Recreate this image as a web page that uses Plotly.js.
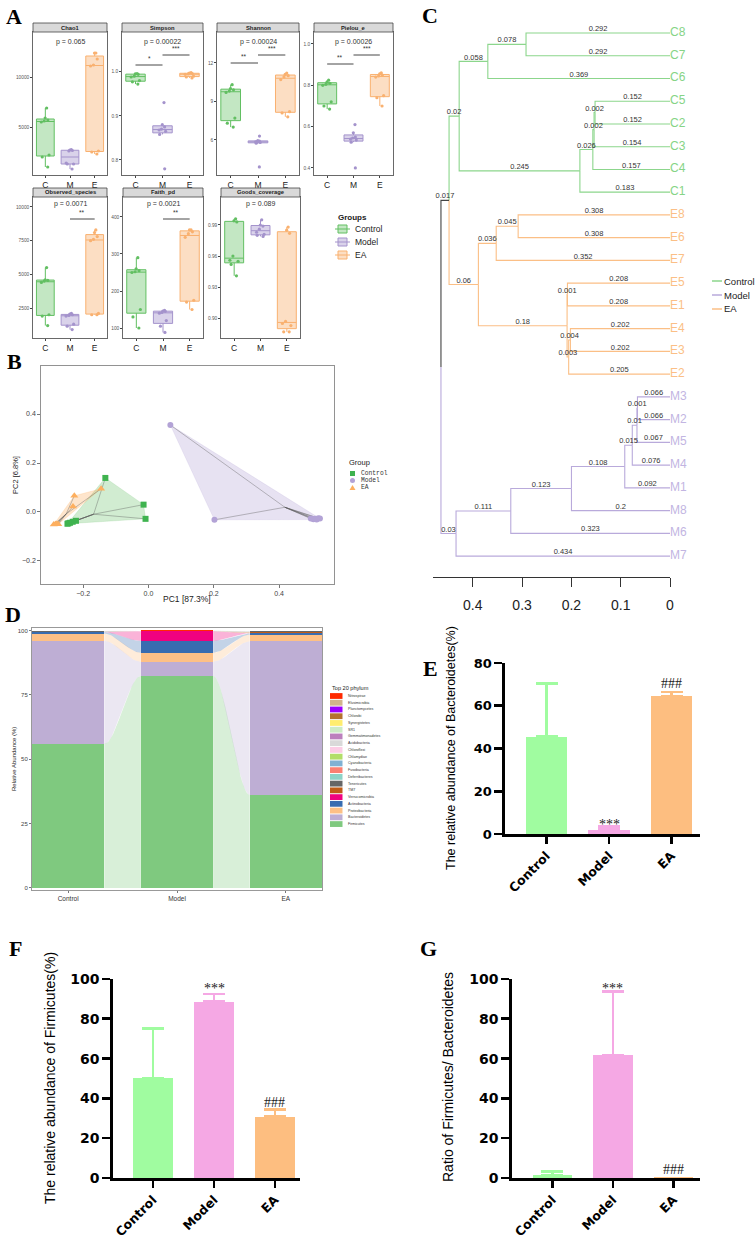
<!DOCTYPE html>
<html>
<head>
<meta charset="utf-8">
<script src="https://cdn.plot.ly/plotly-3.0.1.min.js"></script>
<style>
  html, body { margin: 0; padding: 0; background: #fff; }
  #fig { width: 756px; height: 1239px; }
</style>
</head>
<body>
<div id="fig"></div>
<script>
// ---------- data ----------
// A: alpha diversity, 8 samples per group (C, M, E)
const alphaCats = ['C', 'M', 'E'];
const alphaNames = ['Chao1', 'Simpson', 'Shannon', 'Pielou_e', 'Observed_species', 'Faith_pd', 'Goods_coverage'];
const alphaP = ['p = 0.065', 'p = 0.00022', 'p = 0.00024', 'p = 0.00026', 'p = 0.0071', 'p = 0.0021', 'p = 0.089'];
const chao1 = [[6900, 5900, 5700, 5600, 5500, 2200, 2000, 1000], [2750, 2700, 2650, 2600, 1400, 1300, 1300, 800], [12400, 12400, 11800, 11200, 11100, 2600, 2500, 2300]];
const simpson = [[0.996, 0.995, 0.994, 0.99, 0.988, 0.98, 0.977, 0.972], [0.93, 0.88, 0.875, 0.87, 0.868, 0.865, 0.858, 0.78], [0.998, 0.997, 0.996, 0.995, 0.994, 0.99, 0.988, 0.986]];
const shannon = [[10.3, 10.0, 9.9, 9.8, 9.7, 7.7, 7.3, 7.0], [6.3, 5.95, 5.9, 5.85, 5.85, 5.8, 5.75, 3.9], [11.2, 11.1, 11.0, 10.9, 10.7, 8.2, 8.1, 7.8]];
const pielou = [[0.825, 0.815, 0.81, 0.805, 0.8, 0.72, 0.7, 0.685], [0.61, 0.57, 0.55, 0.545, 0.54, 0.535, 0.525, 0.4], [0.86, 0.855, 0.85, 0.845, 0.84, 0.75, 0.74, 0.7]];
const observed = [[5500, 4600, 4550, 4500, 4400, 2000, 1900, 1200], [2100, 2050, 2000, 1950, 1900, 1300, 1150, 900], [8300, 8100, 7800, 7600, 7500, 2100, 2000, 2000]];
const faith = [[290, 260, 255, 252, 250, 150, 130, 100], [148, 146, 145, 142, 140, 120, 105, 88], [365, 365, 360, 355, 345, 175, 170, 150]];
const goods = [[0.996, 0.994, 0.993, 0.96, 0.956, 0.955, 0.952, 0.941], [0.995, 0.99, 0.989, 0.986, 0.983, 0.981, 0.98, 0.979], [0.988, 0.985, 0.982, 0.897, 0.895, 0.893, 0.887, 0.887]];
const alphaSig = [[], [[0, 1, '*'], [1, 2, '***']], [[0, 1, '**'], [1, 2, '***']], [[0, 1, '**'], [1, 2, '***']], [[1, 2, '**']], [[1, 2, '**']], []];

// B: PCoA coordinates
const ctrlPC1 = [-0.132, -0.015, -0.009, -0.222, -0.232, -0.24, -0.248, -0.245];
const ctrlPC2 = [0.139, 0.03, -0.028, -0.036, -0.04, -0.044, -0.048, -0.046];
const modelPC1 = [0.067, 0.202, 0.497, 0.505, 0.51, 0.52, 0.525, 0.515];
const modelPC2 = [0.355, -0.032, -0.027, -0.03, -0.028, -0.026, -0.027, -0.031];
const eaPC1 = [-0.227, -0.145, -0.231, -0.285, -0.28, -0.276, -0.29, -0.283];
const eaPC2 = [0.066, 0.095, 0.022, -0.05, -0.05, -0.05, -0.051, -0.049];

// C: clustering tree (branch lengths as printed)
const treeNewick = '(((((C8:0.292,C7:0.292):0.078,C6:0.369):0.058,((((C5:0.152,C2:0.152):0.002,C3:0.154):0.002,C4:0.157):0.026,C1:0.183):0.245):0.02,(((E8:0.308,E6:0.308):0.045,E7:0.352):0.036,((E5:0.208,E1:0.208):0.001,((E4:0.202,E3:0.202):0.004,E2:0.205):0.003):0.18):0.06):0.017,(((((((M3:0.066,M2:0.066):0.001,M5:0.067):0.01,M4:0.076):0.015,M1:0.092):0.108,M8:0.2):0.123,M6:0.323):0.111,M7:0.434):0.03)';

// D: top 20 phylum, stacked bottom -> top
const phyla = ['Firmicutes', 'Bacteroidetes', 'Proteobacteria', 'Actinobacteria', 'Verrucomicrobia', 'TM7', 'Tenericutes', 'Deferribacteres', 'Fusobacteria', 'Cyanobacteria', 'Chlamydiae', 'Chloroflexi', 'Acidobacteria', 'Gemmatimonadetes', 'SR1', 'Synergistetes', 'Chlorobi', 'Planctomycetes', 'Elusimicrobia', 'Nitrospirae'];
const phylaColors = ['#7fc97f', '#beaed4', '#fdc086', '#386cb0', '#f0027f', '#bf5b17', '#666666', '#8dd3c7', '#fb8072', '#80b1d3', '#b3de69', '#fccde5', '#d9d9d9', '#bc80bd', '#ccebc5', '#ffed6f', '#b5712f', '#9b00ff', '#d2b48c', '#ff2a00'];
const abundCtrl = [56.0, 40.0, 2.8, 0.6, 0.05, 0.1, 0.15, 0.1, 0.02, 0.05, 0.01, 0.02, 0.01, 0.01, 0.01, 0.01, 0.01, 0.01, 0.01, 0.01];
const abundModel = [82.4, 5.5, 3.5, 4.6, 3.7, 0.05, 0.1, 0.05, 0.01, 0.02, 0.01, 0.02, 0.01, 0.01, 0.01, 0.01, 0.01, 0.01, 0.01, 0.01];
const abundEA = [36.2, 59.6, 2.6, 0.5, 0.05, 0.5, 0.2, 0.1, 0.02, 0.05, 0.01, 0.02, 0.01, 0.01, 0.01, 0.01, 0.01, 0.01, 0.01, 0.01];
const groupNames = ['Control', 'Model', 'EA'];

// E, F, G: mean + SD
const bacteroidetesMean = [45.5, 2.0, 64.5];
const bacteroidetesSD = [24.8, 1.5, 2.0];
const firmicutesMean = [50.3, 88.6, 30.8];
const firmicutesSD = [24.7, 3.9, 3.5];
const ratioMean = [1.5, 61.6, 0.6];
const ratioSD = [1.7, 32.2, 0];

// ---------- helpers ----------
const W = 756, H = 1239;
const SANS = 'Liberation Sans, Arial, sans-serif';
const NARROW = 'Liberation Sans Narrow, Arial Narrow, Liberation Sans, sans-serif';
const SERIF = 'Liberation Serif, Times New Roman, serif';
const MONO = 'Liberation Mono, Courier New, monospace';
const HEAVY = 'DejaVu Sans, Liberation Sans, sans-serif';
const dx = (a, b) => [a / W, b / W];
const dy = (top, bot) => [1 - bot / H, 1 - top / H];
const px = v => v / W;
const py = v => 1 - v / H;
const axRef = (n, c) => n === 1 ? c : c + n;
const axKey = (n, c) => n === 1 ? c + 'axis' : c + 'axis' + n;
function rgba(hex, a) {
  const v = parseInt(hex.slice(1), 16);
  return 'rgba(' + (v >> 16) + ',' + ((v >> 8) & 255) + ',' + (v & 255) + ',' + a + ')';
}

const data = [];
const shapes = [];
const annotations = [];
const layout = {
  width: W, height: H,
  margin: {l: 0, r: 0, t: 0, b: 0},
  paper_bgcolor: '#fff', plot_bgcolor: '#fff',
  showlegend: false, barmode: 'stack', boxmode: 'overlay',
  font: {family: SANS, color: '#222'}
};
function txt(x, y, text, size, opts) {
  annotations.push(Object.assign({
    xref: 'paper', yref: 'paper', x: px(x), y: py(y), text: text, showarrow: false,
    xanchor: 'center', yanchor: 'middle', font: {family: SANS, size: size, color: '#222'}
  }, opts || {}));
}

// panel letters
[['A', 14, 16], ['B', 14, 362], ['C', 430, 15], ['D', 13, 614], ['E', 430, 668], ['F', 15, 948], ['G', 428, 948]]
  .forEach(l => txt(l[1], l[2], '<b>' + l[0] + '</b>', 22, {font: {family: SERIF, size: 22, color: '#000'}}));

// ---------- A: box plots ----------
const alphaSets = [chao1, simpson, shannon, pielou, observed, faith, goods];
const aBox = [
  {l: 33, r: 107, t: 32, b: 175, range: [200, 14500], tv: [5000, 10000], fmt: 'd'},
  {l: 122, r: 203, t: 32, b: 175, range: [0.766, 1.09], tv: [0.8, 0.9, 1.0], fmt: '.1f'},
  {l: 217, r: 299, t: 32, b: 175, range: [3.27, 14.4], tv: [6, 9, 12], fmt: 'd'},
  {l: 314, r: 393, t: 32, b: 175, range: [0.366, 1.058], tv: [0.4, 0.6, 0.8, 1.0], fmt: '.1f'},
  {l: 33, r: 107, t: 197, b: 338, range: [275, 10740], tv: [2500, 5000, 7500, 10000], fmt: 'd'},
  {l: 123, r: 203, t: 197, b: 338, range: [73, 454], tv: [100, 200, 300, 400], fmt: 'd'},
  {l: 221, r: 300, t: 197, b: 338, range: [0.881, 1.017], tv: [0.90, 0.93, 0.96, 0.99], fmt: '.2f'}
];
const aSigY = [[], [65, 55], [63, 55], [64, 55], [219], [219], []];
const grpLine = ['#62bf62', '#a493cc', '#f9b170'];
const grpFill = ['rgba(98,191,98,0.38)', 'rgba(164,147,204,0.42)', 'rgba(249,177,112,0.42)'];

alphaSets.forEach((set, i) => {
  const n = i + 1, p = aBox[i];
  set.forEach((vals, g) => {
    data.push({
      type: 'box', x: vals.map(() => alphaCats[g]), y: vals,
      xaxis: axRef(n, 'x'), yaxis: axRef(n, 'y'),
      boxpoints: 'all', jitter: 0.55, pointpos: 0, width: 0.72, whiskerwidth: 0,
      fillcolor: grpFill[g], line: {color: grpLine[g], width: 1},
      marker: {color: grpLine[g], size: 3.2}, hoverinfo: 'y'
    });
  });
  layout[axKey(n, 'x')] = {
    domain: dx(p.l, p.r), anchor: axRef(n, 'y'), type: 'category',
    categoryorder: 'array', categoryarray: alphaCats, range: [-0.5, 2.5],
    showline: true, mirror: true, linecolor: '#444', linewidth: 0.8,
    ticks: 'outside', ticklen: 2, tickcolor: '#444', showgrid: false, zeroline: false,
    tickfont: {family: SANS, size: 8.5, color: '#222'}
  };
  layout[axKey(n, 'y')] = {
    domain: dy(p.t, p.b), anchor: axRef(n, 'x'), range: p.range, tickvals: p.tv, tickformat: p.fmt,
    exponentformat: 'none', separatethousands: false,
    showline: true, mirror: true, linecolor: '#444', linewidth: 0.8,
    ticks: 'outside', ticklen: 2, tickcolor: '#444', showgrid: false, zeroline: false,
    tickfont: {family: SANS, size: 4.8, color: '#555'}
  };
  // strip header
  shapes.push({type: 'rect', xref: 'paper', yref: 'paper', x0: px(p.l), x1: px(p.r), y0: py(p.t), y1: py(p.t - 9),
    fillcolor: '#d9d9d9', line: {color: '#444', width: 0.8}});
  txt((p.l + p.r) / 2, p.t - 4.5, '<b>' + alphaNames[i] + '</b>', 5.8);
  txt((p.l + p.r) / 2, p.t + (i < 4 ? 10 : 7), alphaP[i], 7, {font: {family: SANS, size: 7, color: '#333'}});
  alphaSig[i].forEach((s, k) => {
    const yy = aSigY[i][k];
    shapes.push({type: 'line', xref: axRef(n, 'x'), yref: 'paper', x0: s[0], x1: s[1], y0: py(yy), y1: py(yy),
      line: {color: '#333', width: 0.9}});
    annotations.push({xref: axRef(n, 'x'), yref: 'paper', x: (s[0] + s[1]) / 2, y: py(yy - 1), text: s[2],
      showarrow: false, yanchor: 'bottom', font: {family: SANS, size: 6.5, color: '#333'}});
  });
});
// A legend
txt(336, 217, '<b>Groups</b>', 8, {xanchor: 'left'});
['Control', 'Model', 'EA'].forEach((g, k) => {
  const yy = 229 + k * 13;
  shapes.push({type: 'line', xref: 'paper', yref: 'paper', x0: px(335), x1: px(350), y0: py(yy), y1: py(yy), line: {color: grpLine[k], width: 1}});
  shapes.push({type: 'rect', xref: 'paper', yref: 'paper', x0: px(338), x1: px(347), y0: py(yy + 4), y1: py(yy - 4), fillcolor: grpFill[k], line: {color: grpLine[k], width: 1}});
  txt(353, yy, g, 8.5, {xanchor: 'left'});
});

// ---------- B: PCoA ----------
function hull(xs, ys) {
  const p = xs.map((x, i) => [x, ys[i]]).sort((a, b) => a[0] - b[0] || a[1] - b[1]);
  const cross = (o, a, b) => (a[0] - o[0]) * (b[1] - o[1]) - (a[1] - o[1]) * (b[0] - o[0]);
  const lo = [], up = [];
  p.forEach(q => { while (lo.length >= 2 && cross(lo[lo.length - 2], lo[lo.length - 1], q) <= 0) lo.pop(); lo.push(q); });
  p.slice().reverse().forEach(q => { while (up.length >= 2 && cross(up[up.length - 2], up[up.length - 1], q) <= 0) up.pop(); up.push(q); });
  const h = lo.slice(0, -1).concat(up.slice(0, -1));
  h.push(h[0]);
  return h;
}
const pcaGroups = [
  {x: ctrlPC1, y: ctrlPC2, col: '#3fb34f', fill: 'rgba(90,185,90,0.28)', sym: 'square', size: 6},
  {x: modelPC1, y: modelPC2, col: '#b3a3d6', fill: 'rgba(180,165,215,0.32)', sym: 'circle', size: 6},
  {x: eaPC1, y: eaPC2, col: '#fdaf5f', fill: 'rgba(253,175,95,0.32)', sym: 'triangle-up', size: 7}
];
pcaGroups.forEach(g => {
  const h = hull(g.x, g.y);
  data.push({type: 'scatter', mode: 'lines', x: h.map(p => p[0]), y: h.map(p => p[1]), xaxis: 'x8', yaxis: 'y8',
    fill: 'toself', fillcolor: g.fill, line: {color: g.fill, width: 0.6}, hoverinfo: 'skip'});
  const cx = g.x.reduce((a, b) => a + b, 0) / g.x.length;
  const cy = g.y.reduce((a, b) => a + b, 0) / g.y.length;
  const sx = [], sy = [];
  g.x.forEach((x, i) => { sx.push(cx, x, null); sy.push(cy, g.y[i], null); });
  data.push({type: 'scatter', mode: 'lines', x: sx, y: sy, xaxis: 'x8', yaxis: 'y8',
    line: {color: 'rgba(90,90,90,0.55)', width: 0.7}, hoverinfo: 'skip'});
});
pcaGroups.forEach(g => {
  data.push({type: 'scatter', mode: 'markers', x: g.x, y: g.y, xaxis: 'x8', yaxis: 'y8',
    marker: {symbol: g.sym, size: g.size, color: g.col}});
});
layout.xaxis8 = {domain: dx(41, 334), anchor: 'y8', range: [-0.329, 0.568], tickvals: [-0.2, 0, 0.2, 0.4], tickformat: '.1f',
  showline: true, mirror: true, linecolor: '#777', linewidth: 0.8, ticks: 'outside', ticklen: 3, tickcolor: '#777',
  showgrid: false, zeroline: false, tickfont: {family: SANS, size: 7, color: '#444'}};
layout.yaxis8 = {domain: dy(366, 584), anchor: 'x8', range: [-0.294, 0.596], tickvals: [-0.2, 0, 0.2, 0.4], tickformat: '.1f',
  showline: true, mirror: true, linecolor: '#777', linewidth: 0.8, ticks: 'outside', ticklen: 3, tickcolor: '#777',
  showgrid: false, zeroline: false, tickfont: {family: SANS, size: 7, color: '#444'}};
txt(187, 599, 'PC1 [87.3%]', 8.5);
txt(15, 475, 'PC2 [6.8%]', 7.5, {textangle: -90});
// B legend
txt(347, 462, 'Group', 7.5, {xanchor: 'left'});
shapes.push({type: 'rect', xref: 'paper', yref: 'paper', x0: px(350), x1: px(355), y0: py(476), y1: py(471), fillcolor: '#3fb34f', line: {width: 0}});
shapes.push({type: 'circle', xref: 'paper', yref: 'paper', x0: px(350), x1: px(355), y0: py(483), y1: py(478), fillcolor: '#b3a3d6', line: {width: 0}});
shapes.push({type: 'path', xref: 'paper', yref: 'paper', path: 'M ' + px(349.5) + ' ' + py(490) + ' L ' + px(355.5) + ' ' + py(490) + ' L ' + px(352.5) + ' ' + py(485) + ' Z', fillcolor: '#fdaf5f', line: {width: 0}});
['Control', 'Model', 'EA'].forEach((g, k) => txt(359, 473.5 + k * 7, g, 6.3, {xanchor: 'left', font: {family: MONO, size: 6.3, color: '#333'}}));

// ---------- C: clustering tree ----------
function parseNewick(s) {
  let i = 0;
  function node() {
    const n = {children: [], name: '', len: 0, lenText: ''};
    if (s[i] === '(') {
      i++;
      n.children.push(node());
      while (s[i] === ',') { i++; n.children.push(node()); }
      i++;
    }
    while (i < s.length && !',():'.includes(s[i])) n.name += s[i++];
    if (s[i] === ':') {
      i++;
      while (i < s.length && !',()'.includes(s[i])) n.lenText += s[i++];
      n.len = parseFloat(n.lenText);
    }
    return n;
  }
  return node();
}
const tree = parseNewick(treeNewick);
let leafIdx = 0;
function place(n) {
  if (!n.children.length) { n.y = leafIdx++; n.h = 0; n.grp = n.name[0]; return; }
  n.children.forEach(place);
  n.h = n.children.reduce((s, c) => s + c.h + c.len, 0) / n.children.length;
  n.y = (n.children[0].y + n.children[n.children.length - 1].y) / 2;
  const g = n.children.map(c => c.grp);
  n.grp = g.every(v => v === g[0]) ? g[0] : 'X';
}
place(tree);
const treeLine = {C: '#8cd68c', E: '#fbbf86', M: '#b9aadb', X: '#444'};
const treeLeaf = {C: '#86d486', E: '#fbbf86', M: '#c2b5e2'};
const segs = {C: {x: [], y: []}, E: {x: [], y: []}, M: {x: [], y: []}, X: {x: [], y: []}};
const edgeLab = {x: [], y: [], t: []};
const leafLab = {x: [], y: [], t: [], c: []};
(function walk(n) {
  if (!n.children.length) { leafLab.x.push(n.h); leafLab.y.push(n.y); leafLab.t.push(n.name); leafLab.c.push(treeLeaf[n.grp]); return; }
  n.children.forEach(c => {
    const s = segs[c.grp];
    s.x.push(n.h, n.h, c.h, null);
    s.y.push(n.y, c.y, c.y, null);
    edgeLab.x.push((n.h + c.h) / 2); edgeLab.y.push(c.y); edgeLab.t.push(c.lenText);
    walk(c);
  });
})(tree);
Object.keys(segs).forEach(k => {
  data.push({type: 'scatter', mode: 'lines', x: segs[k].x, y: segs[k].y, xaxis: 'x9', yaxis: 'y9',
    line: {color: treeLine[k], width: 1.1}, hoverinfo: 'skip', cliponaxis: false});
});
data.push({type: 'scatter', mode: 'text', x: edgeLab.x, y: edgeLab.y, text: edgeLab.t, textposition: 'top center',
  xaxis: 'x9', yaxis: 'y9', textfont: {family: NARROW, size: 7.5, color: '#333'}, cliponaxis: false, hoverinfo: 'skip'});
data.push({type: 'scatter', mode: 'text', x: leafLab.x, y: leafLab.y, text: leafLab.t, textposition: 'middle right',
  xaxis: 'x9', yaxis: 'y9', textfont: {family: NARROW, size: 12, color: leafLab.c}, cliponaxis: false, hoverinfo: 'skip'});
layout.xaxis9 = {domain: dx(433, 670), anchor: 'y9', range: [0.4807, 0], tickvals: [0, 0.1, 0.2, 0.3, 0.4],
  ticktext: ['0', '0.1', '0.2', '0.3', '0.4'], showline: true, linecolor: '#333', linewidth: 1,
  ticks: 'outside', ticklen: 9, tickcolor: '#333', ticklabelstandoff: 6, showgrid: false, zeroline: false,
  tickfont: {family: NARROW, size: 14, color: '#222'}};
layout.yaxis9 = {domain: dy(20, 577), anchor: 'x9', range: [23.92, -0.57], visible: false};
// C legend
['Control', 'Model', 'EA'].forEach((g, k) => {
  const yy = 281 + k * 14;
  const c = treeLine[['C', 'M', 'E'][k]];
  shapes.push({type: 'line', xref: 'paper', yref: 'paper', x0: px(712), x1: px(722), y0: py(yy), y1: py(yy), line: {color: c, width: 1.5}});
  txt(722, yy, g, 9.5, {xanchor: 'left', font: {family: NARROW, size: 9.5, color: '#222'}});
});

// ---------- D: stacked abundance ----------
const abund = [abundCtrl, abundModel, abundEA];
const cum = abund.map(a => { let s = 0; return a.map(v => { const lo = s; s += v; return [lo, s]; }); });
const half = 0.332, steps = 24;
phyla.forEach((name, p) => {
  for (let g = 0; g < 2; g++) {
    const x0 = g + half, x1 = g + 1 - half;
    const xs = [], ys = [];
    for (let k = 0; k <= steps; k++) {
      const t = k / steps, s = t * t * (3 - 2 * t);
      xs.push(x0 + (x1 - x0) * t); ys.push(cum[g][p][1] + (cum[g + 1][p][1] - cum[g][p][1]) * s);
    }
    for (let k = steps; k >= 0; k--) {
      const t = k / steps, s = t * t * (3 - 2 * t);
      xs.push(x0 + (x1 - x0) * t); ys.push(cum[g][p][0] + (cum[g + 1][p][0] - cum[g][p][0]) * s);
    }
    data.push({type: 'scatter', mode: 'lines', x: xs, y: ys, xaxis: 'x10', yaxis: 'y10', fill: 'toself',
      fillcolor: rgba(phylaColors[p], 0.3), line: {width: 0}, hoverinfo: 'skip'});
  }
  data.push({type: 'bar', x: [0, 1, 2], y: abund.map(a => a[p]), width: 0.664, name: name,
    xaxis: 'x10', yaxis: 'y10', marker: {color: phylaColors[p], line: {width: 0}}});
});
layout.xaxis10 = {domain: dx(32, 322), anchor: 'y10', range: [-half, 2 + half], tickvals: [0, 1, 2], ticktext: groupNames,
  showline: true, mirror: true, linecolor: '#999', linewidth: 1, ticks: 'outside', ticklen: 2, tickcolor: '#777',
  showgrid: false, zeroline: false, tickfont: {family: SANS, size: 6.5, color: '#333'}};
layout.yaxis10 = {domain: dy(628, 890), anchor: 'x10', range: [-0.8, 101], tickvals: [0, 25, 50, 75, 100],
  showline: true, mirror: true, linecolor: '#999', linewidth: 1, ticks: 'outside', ticklen: 2, tickcolor: '#777',
  showgrid: false, zeroline: false, tickfont: {family: SANS, size: 6, color: '#444'}};
txt(14, 759, 'Relative Abundance (%)', 6, {textangle: -90});
// D legend
txt(330, 688, 'Top 20 phylum', 5.6, {xanchor: 'left'});
phyla.slice().reverse().forEach((name, k) => {
  const idx = phyla.length - 1 - k;
  const yy = 696 + k * 6.74;
  shapes.push({type: 'rect', xref: 'paper', yref: 'paper', x0: px(330), x1: px(342.5), y0: py(yy + 2.9), y1: py(yy - 2.9),
    fillcolor: phylaColors[idx], line: {width: 0}});
  txt(346, yy, name, 3.6, {xanchor: 'left', font: {family: SANS, size: 3.6, color: '#333'}});
});

// ---------- E, F, G: bar charts ----------
const barColors = ['#a0fca0', '#f5a8e4', '#fdbe80'];
function barPanel(n, means, sds, box, xr, ymax, tsize, csize, marks) {
  means.forEach((m, i) => {
    data.push({type: 'bar', x: [groupNames[i]], y: [m], width: 0.66, xaxis: 'x' + n, yaxis: 'y' + n,
      marker: {color: barColors[i], line: {width: 0}},
      error_y: {type: 'data', array: [sds[i]], arrayminus: [0], symmetric: false, visible: sds[i] > 0,
        color: barColors[i], thickness: 2.6, width: 11}});
  });
  layout['xaxis' + n] = {domain: dx(box.l, box.r), anchor: 'y' + n, type: 'category', range: xr,
    showline: true, linecolor: '#000', linewidth: 2.6, ticks: 'outside', ticklen: 7, tickwidth: 2.6, tickcolor: '#000',
    tickangle: -45, showgrid: false, zeroline: false,
    tickfont: {family: HEAVY, size: csize, color: '#000', weight: 'bold'}};
  layout['yaxis' + n] = {domain: dy(box.t, box.b), anchor: 'x' + n, range: [0, ymax], dtick: 20,
    showline: true, linecolor: '#000', linewidth: 2.6, ticks: 'outside', ticklen: 8, tickwidth: 2.6, tickcolor: '#000',
    showgrid: false, zeroline: false, tickfont: {family: HEAVY, size: tsize, color: '#000', weight: 'bold'}};
  marks.forEach(mk => {
    const i = mk[0];
    annotations.push({xref: 'x' + n, yref: 'y' + n, x: groupNames[i], y: means[i] + sds[i], text: mk[1],
      showarrow: false, yanchor: 'middle', yshift: mk[2], font: {family: SERIF, size: 14, color: '#222'}});
  });
}
barPanel(11, bacteroidetesMean, bacteroidetesSD, {l: 505, r: 700, t: 663, b: 834}, [-0.664, 2.456], 80, 13, 12.5,
  [[1, '***', 2], [2, '###', 8]]);
barPanel(12, firmicutesMean, firmicutesSD, {l: 113, r: 300, t: 979, b: 1178}, [-0.656, 2.41], 100, 14, 12.5,
  [[1, '***', 5], [2, '###', 7]]);
barPanel(13, ratioMean, ratioSD, {l: 512, r: 700, t: 979, b: 1178}, [-0.669, 2.438], 100, 14, 12.5,
  [[1, '***', 3], [2, '###', 7]]);
txt(451, 748, 'The relative abundance of Bacteroidetes(%)', 12.5, {textangle: -90, font: {family: SANS, size: 12.5, color: '#000'}});
txt(50, 1078, 'The relative abundance of Firmicutes(%)', 14, {textangle: -90, font: {family: SANS, size: 14, color: '#000'}});
txt(448, 1077, 'Ratio of Firmicutes/ Bacteroidetes', 14, {textangle: -90, font: {family: SANS, size: 14, color: '#000'}});

layout.shapes = shapes;
layout.annotations = annotations;

Plotly.newPlot('fig', data, layout, {displayModeBar: false, staticPlot: true});
</script>
</body>
</html>
